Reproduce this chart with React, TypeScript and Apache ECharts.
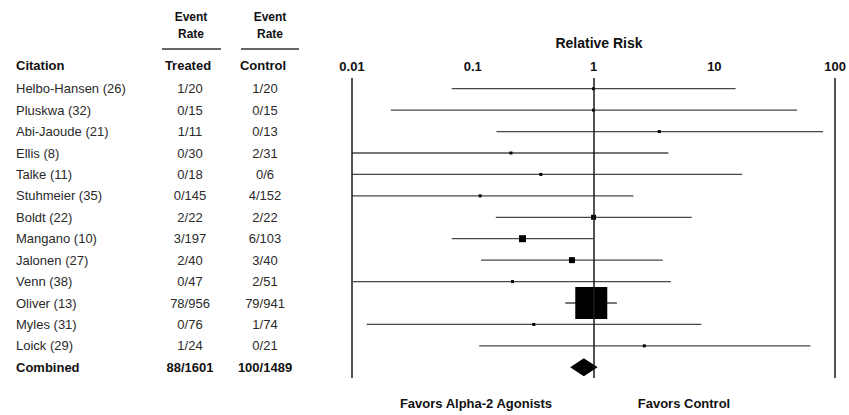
import React, { useEffect, useRef } from "react";
import * as echarts from "echarts";

const citations = [
  "Helbo-Hansen (26)", "Pluskwa (32)", "Abi-Jaoude (21)", "Ellis (8)", "Talke (11)",
  "Stuhmeier (35)", "Boldt (22)", "Mangano (10)", "Jalonen (27)", "Venn (38)",
  "Oliver (13)", "Myles (31)", "Loick (29)", "Combined",
];
const treatedRates = ["1/20", "0/15", "1/11", "0/30", "0/18", "0/145", "2/22", "3/197", "2/40", "0/47", "78/956", "0/76", "1/24", "88/1601"];
const controlRates = ["1/20", "0/15", "0/13", "2/31", "0/6", "4/152", "2/22", "6/103", "3/40", "2/51", "79/941", "1/74", "0/21", "100/1489"];
const relativeRisk = [1, 1, 3.5, 0.207, 0.366, 0.115, 1, 0.258, 0.662, 0.213, 0.957, 0.32, 2.63];
const lowerCI = [0.067, 0.021, 0.157, 0.01, 0.01, 0.01, 0.155, 0.067, 0.117, 0.0102, 0.584, 0.0132, 0.113];
const upperCI = [15, 48.4, 79.4, 4.16, 17, 2.14, 6.5, 0.99, 3.73, 4.37, 1.56, 7.82, 62.4];
const markerSize = [3, 3, 3, 3, 3, 3, 5, 7, 6, 3, 32, 3, 3];
const combinedRR = [0.64, 0.83, 1.08]; // lower, estimate, upper
const tickValues = [0.01, 0.1, 1, 10, 100];

const W = 849;
const H = 415;
const GRID_LEFT = 352;
const GRID_RIGHT = 12;
const GRID_TOP = 78;
const GRID_H = 300;
const FONT = "'Liberation Sans', Arial, sans-serif";

export default function App() {
  const ref = useRef<HTMLDivElement>(null);
  useEffect(() => {
    if (!ref.current) return;
    const chart = echarts.init(ref.current, undefined, { renderer: "svg" });
    const band = GRID_H / citations.length;
    const rowY = (i: number) => GRID_TOP + (i + 0.5) * band;
    const colName = 16;
    const colT = 190;
    const colC = 265;
    const hdrT = 191;
    const hdrC = 270;

    const txt = (text: string, x: number, y: number, align: string, bold: boolean, size = 13, color?: string) => ({
      type: "text",
      x,
      y,
      silent: true,
      style: {
        text,
        fill: color || (bold ? "#111" : "#2a2a2a"),
        font: `${bold ? "bold " : ""}${size}px ${FONT}`,
        align,
        verticalAlign: "middle",
      },
    });

    const graphics: any[] = [
      txt("Event", hdrT, 17, "center", true, 12),
      txt("Rate", hdrT, 34, "center", true, 12),
      txt("Event", hdrC, 17, "center", true, 12),
      txt("Rate", hdrC, 34, "center", true, 12),
      { type: "line", silent: true, shape: { x1: 162, y1: 49, x2: 221, y2: 49 }, style: { stroke: "#666", lineWidth: 2 } },
      { type: "line", silent: true, shape: { x1: 241, y1: 49, x2: 299, y2: 49 }, style: { stroke: "#666", lineWidth: 2 } },
      txt("Citation", colName, 65, "left", true),
      txt("Treated", 188, 65, "center", true),
      txt("Control", 263, 65, "center", true),
      txt("Relative Risk", 599, 43, "center", true, 14),
      txt("Favors Alpha-2 Agonists", 476, 403, "center", true),
      txt("Favors Control", 684, 403, "center", true),
    ];
    citations.forEach((c, i) => {
      const bold = i === citations.length - 1;
      graphics.push(txt(c, colName, rowY(i), "left", bold));
      graphics.push(txt(treatedRates[i], colT, rowY(i), "center", bold));
      graphics.push(txt(controlRates[i], colC, rowY(i), "center", bold));
    });

    const studyData = relativeRisk.map((v, i) => [v, lowerCI[i], upperCI[i], i, markerSize[i]]);

    chart.setOption({
      animation: false,
      grid: { left: GRID_LEFT, right: GRID_RIGHT, top: GRID_TOP, height: GRID_H, containLabel: false },
      xAxis: {
        type: "log",
        logBase: 10,
        min: 0.01,
        max: 100,
        position: "top",
        axisLine: { show: false },
        axisTick: { show: false },
        splitLine: { show: false },
        axisLabel: {
          fontFamily: FONT,
          fontWeight: "bold",
          fontSize: 13,
          color: "#111",
          margin: 5,
          formatter: (v: number) => String(Number(v.toPrecision(3))),
        },
      },
      yAxis: {
        type: "category",
        data: citations,
        inverse: true,
        show: false,
      },
      graphic: graphics,
      series: [
        {
          type: "line",
          data: [],
          silent: true,
          markLine: {
            silent: true,
            symbol: "none",
            label: { show: false },
            lineStyle: { color: "#1a1a1a", width: 1.5, type: "solid" },
            data: tickValues.filter((t) => t === 0.01 || t === 1 || t === 100).map((t) => ({ xAxis: t })),
          },
        },
        {
          type: "custom",
          silent: true,
          clip: false,
          encode: { x: [0, 1, 2], y: 3 },
          data: studyData,
          renderItem: (params: any, api: any) => {
            const row = api.value(3);
            const c = api.coord([api.value(0), row]);
            const l = api.coord([api.value(1), row]);
            const r = api.coord([api.value(2), row]);
            const s = api.value(4);
            return {
              type: "group",
              children: [
                { type: "line", shape: { x1: l[0], y1: c[1], x2: r[0], y2: c[1] }, style: { stroke: "#484848", lineWidth: 1.3 } },
                { type: "rect", shape: { x: c[0] - s / 2, y: c[1] - s / 2, width: s, height: s }, style: { fill: "#000" } },
              ],
            };
          },
        },
        {
          type: "custom",
          silent: true,
          clip: false,
          encode: { x: [0, 1, 2], y: 3 },
          data: [[combinedRR[0], combinedRR[1], combinedRR[2], citations.length - 1]],
          renderItem: (params: any, api: any) => {
            const row = api.value(3);
            const l = api.coord([api.value(0), row]);
            const c = api.coord([api.value(1), row]);
            const r = api.coord([api.value(2), row]);
            const h = 9;
            return {
              type: "polygon",
              shape: { points: [[l[0], c[1]], [c[0], c[1] - h], [r[0], c[1]], [c[0], c[1] + h]] },
              style: { fill: "#000" },
            };
          },
        },
      ],
    });
    return () => chart.dispose();
  }, []);
  return (
    <div
      ref={ref}
      style={{ position: "fixed", left: 0, top: 0, width: W, height: H, background: "#fff" }}
    />
  );
}
